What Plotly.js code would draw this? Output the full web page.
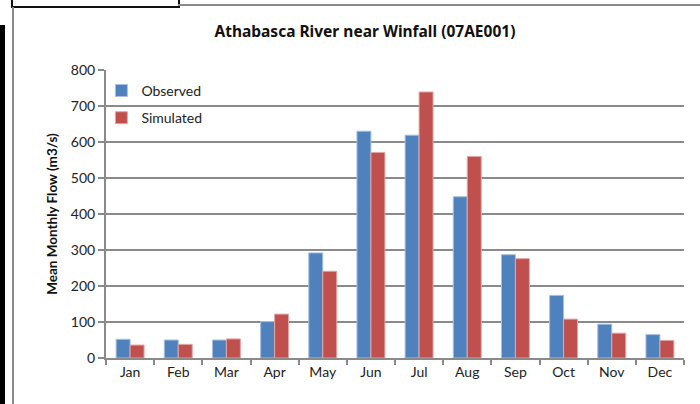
<!DOCTYPE html>
<html>
<head>
<meta charset="utf-8">
<script src="https://cdn.plot.ly/plotly-3.0.1.min.js"></script>
<style>
  html, body { margin: 0; padding: 0; background: #fff; }
  #wrap { position: relative; width: 700px; height: 404px; overflow: hidden; }
  #chart { position: absolute; left: 0; top: 0; width: 700px; height: 404px; }
  .deco { position: absolute; pointer-events: none; }
</style>
</head>
<body>
<div id="wrap">
  <div id="chart"></div>
  <div class="deco" style="left:11px; top:-2px; width:165px; height:6px; border:2px solid #111; background:#fff;"></div>
  <div class="deco" style="left:178px; top:4px; width:522px; height:2px; background:#8a8a8a;"></div>
  <div class="deco" style="left:12px; top:7px; width:2px; height:397px; background:#8a8a8a;"></div>
  <div class="deco" style="left:0px; top:25px; width:5px; height:379px; background:#000;"></div>
</div>
<script>
const months = ["Jan","Feb","Mar","Apr","May","Jun","Jul","Aug","Sep","Oct","Nov","Dec"];
const observed = [52, 50, 50, 101, 292, 630, 619, 448, 287, 174, 94, 65];
const simulated = [36, 38, 53, 122, 241, 571, 739, 560, 276, 108, 69, 49];
const yTicks = [0, 100, 200, 300, 400, 500, 600, 700, 800];

const font = "Lato, 'Open Sans', 'Liberation Sans', sans-serif";
const titleFont = "'Noto Sans', Lato, sans-serif";

const traces = [
  {
    type: "bar", name: "Observed", x: months, y: observed,
    marker: { color: "#4F81BD", line: { color: "#A7C0E0", width: 1 } },
    legendgroup: "a", hoverinfo: "x+y"
  },
  {
    type: "bar", name: "Simulated", x: months, y: simulated,
    marker: { color: "#C0504D", line: { color: "#E3A6A4", width: 1 } },
    legendgroup: "b", hoverinfo: "x+y"
  }
];

const layout = {
  width: 700, height: 404,
  margin: { l: 106, r: 16, t: 70, b: 46, pad: 0 },
  paper_bgcolor: "rgba(0,0,0,0)", plot_bgcolor: "rgba(0,0,0,0)",
  font: { family: font, size: 14, color: "#222" },
  title: {
    text: "<b>Athabasca River near Winfall (07AE001)</b>",
    font: { family: titleFont, size: 15.5, color: "#111" },
    x: 0.448, xanchor: "center", xref: "paper",
    y: 0.923, yref: "container", yanchor: "middle"
  },
  barmode: "group", bargap: 0.42, bargroupgap: 0,
  showlegend: true,
  legend: {
    x: -0.008, y: 0.983, xanchor: "left", yanchor: "top",
    bgcolor: "rgba(0,0,0,0)", borderwidth: 0,
    font: { family: font, size: 14, color: "#222" },
    traceorder: "grouped", tracegroupgap: 6, itemwidth: 30
  },
  xaxis: {
    type: "category", categoryarray: months,
    showline: true, linecolor: "#8a8a8a", linewidth: 2,
    ticks: "outside", tickson: "boundaries", ticklen: 5, tickcolor: "#8a8a8a", tickwidth: 2,
    showgrid: false, zeroline: false,
    tickfont: { family: font, size: 14, color: "#222" }
  },
  yaxis: {
    range: [0, 800], tickvals: yTicks, ticktext: yTicks.map(String),
    showline: true, linecolor: "#8a8a8a", linewidth: 2,
    ticks: "outside", ticklen: 6, tickcolor: "#8a8a8a", tickwidth: 2,
    showgrid: true, gridcolor: "#8a8a8a", gridwidth: 2,
    zeroline: false,
    tickfont: { family: font, size: 14, color: "#222" },
    title: {
      text: "<b>Mean Monthly Flow (m3/s)</b>",
      font: { family: font, size: 13.5, color: "#111" },
      standoff: 10
    }
  }
};

Plotly.newPlot("chart", traces, layout, { displayModeBar: false, staticPlot: true });
</script>
</body>
</html>
